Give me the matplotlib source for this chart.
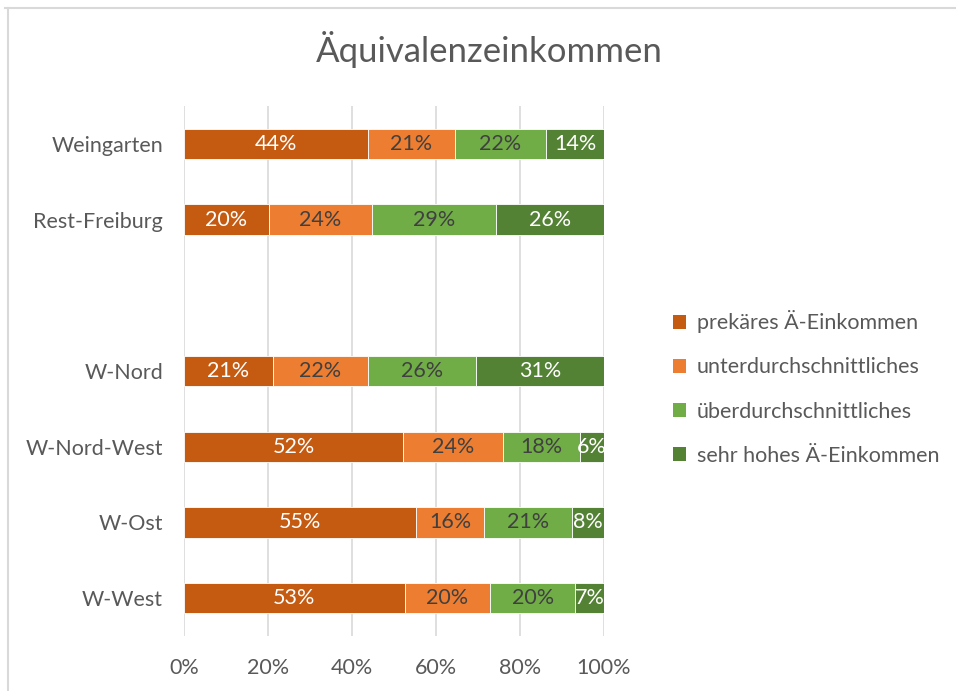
import matplotlib
matplotlib.use('Agg')
import matplotlib.pyplot as plt
from matplotlib.lines import Line2D
from matplotlib.patches import Patch
import numpy as np

# categories top to bottom, empty slot is a gap row
categories = ['Weingarten', 'Rest-Freiburg', '', 'W-Nord', 'W-Nord-West', 'W-Ost', 'W-West']
series = ['prekäres Ä-Einkommen', 'unterdurchschnittliches',
          'überdurchschnittliches', 'sehr hohes Ä-Einkommen']
prekaer = [43.8, 20.2, np.nan, 21.2, 52.1, 55.2, 52.6]
unter = [20.7, 24.6, np.nan, 22.6, 23.9, 16.2, 20.3]
ueber = [21.7, 29.5, np.nan, 25.7, 18.3, 21.0, 20.2]
hoch = [13.8, 25.7, np.nan, 30.5, 5.7, 7.6, 6.9]
labels = [[44, 20, None, 21, 52, 55, 53],
          [21, 24, None, 22, 24, 16, 20],
          [22, 29, None, 26, 18, 21, 20],
          [14, 26, None, 31, 6, 8, 7]]

colors = ['#C55A11', '#ED7D31', '#70AD47', '#548235']
label_colors = ['white', '#404040', '#404040', 'white']
FS = 15.5

plt.rcParams['font.family'] = ['Lato', 'DejaVu Sans']

fig = plt.figure(figsize=(9.56, 6.91), dpi=100)
ax = fig.add_axes([184 / 956, 1 - 636 / 691, 420 / 956, 530 / 691])

data = np.array([prekaer, unter, ueber, hoch], dtype=float)
totals = np.nansum(data, axis=0)
totals[totals == 0] = 1
frac = data / totals

y = np.arange(len(categories))
valid = ~np.isnan(data[0])
left = np.zeros(len(categories))
for i in range(4):
    vals = np.nan_to_num(frac[i])
    ax.barh(y[valid], vals[valid], left=left[valid], height=0.4, color=colors[i],
            edgecolor='white', linewidth=0.6, zorder=3)
    for j, lab in enumerate(labels[i]):
        if lab is None:
            continue
        ax.text(left[j] + vals[j] / 2, y[j], f'{lab}%', ha='center', va='center',
                fontsize=FS, color=label_colors[i], zorder=4)
    left += vals

ax.set_ylim(len(categories) - 0.5, -0.5)
ax.set_xlim(0, 1)
ax.set_yticks(y)
ax.set_yticklabels(categories, fontsize=FS, color='#595959')
ax.set_xticks(np.linspace(0, 1, 6))
ax.set_xticklabels([f'{int(v)}%' for v in np.linspace(0, 100, 6)],
                   fontsize=FS, color='#595959')
ax.tick_params(axis='both', length=0)
ax.tick_params(axis='x', pad=16)
ax.tick_params(axis='y', pad=15)
ax.grid(axis='x', color='#D9D9D9', linewidth=1.2, zorder=0)
for s in ax.spines.values():
    s.set_visible(False)

fig.text(489 / 956, 1 - 50 / 691, 'Äquivalenzeinkommen', ha='center', va='center',
         fontsize=25, color='#595959')

handles = [Patch(facecolor=c, edgecolor='none') for c in colors]
fig.legend(handles, series, loc='center left', bbox_to_anchor=(654 / 956, 1 - 388 / 691),
           frameon=False, fontsize=FS, labelcolor='#595959', labelspacing=1.12,
           handlelength=0.6, handleheight=0.6, handletextpad=0.5)

# outer chart frame (top and left edges visible)
fig.add_artist(Line2D([5 / 956, 1], [1 - 8 / 691, 1 - 8 / 691], color='#D9D9D9',
                      linewidth=1.5, transform=fig.transFigure))
fig.add_artist(Line2D([8 / 956, 8 / 956], [0, 1 - 8 / 691], color='#D9D9D9',
                      linewidth=1.5, transform=fig.transFigure))

fig.savefig('out.png', dpi=100, facecolor='white')
